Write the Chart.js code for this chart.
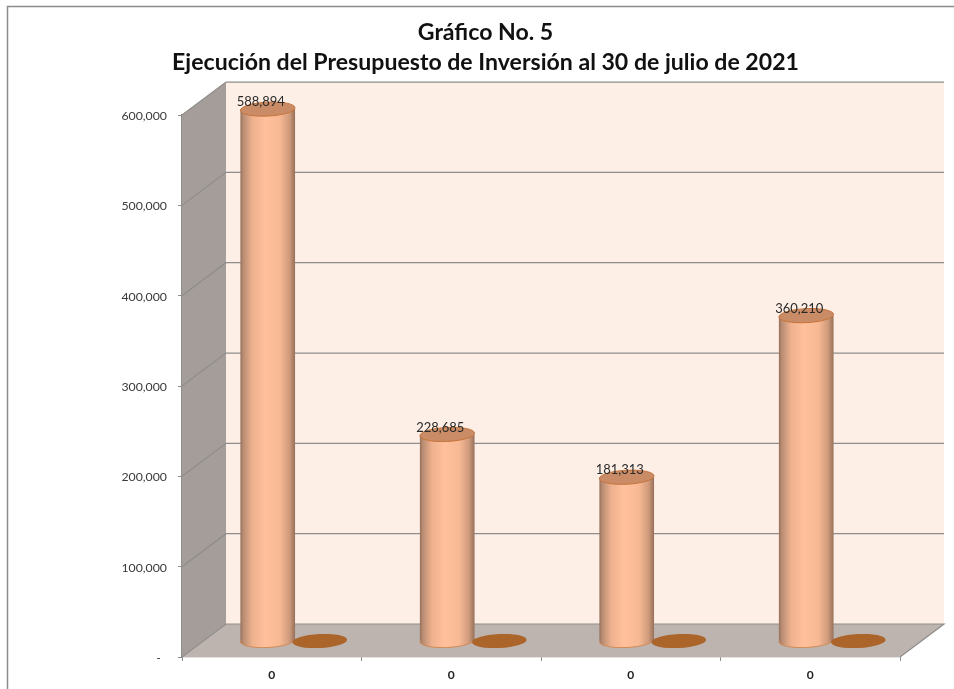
<!DOCTYPE html>
<html><head><meta charset="utf-8">
<style>html,body{margin:0;padding:0;background:#fff}#w{width:954px;height:689px;position:relative}canvas{filter:blur(0.4px)}</style>
<script src="https://cdn.jsdelivr.net/npm/chart.js@4"></script>
</head><body><div id="w"><canvas id="c"></canvas></div>
<script>
const categories = ['0', '0', '0', '0'];
const executed = [588894, 228685, 181313, 360210];
const zeroSeries = [0, 0, 0, 0];
const titleLines = ['Gráfico No. 5', 'Ejecución del Presupuesto de Inversión al 30 de julio de 2021'];

const FONT = 'Lato, Carlito, "Open Sans", sans-serif';
const DEPTH_X = 44, DEPTH_Y = 33;
const BAR_DX = 22, BAR_DY = 16;
const TILT = -0.05, RY = 7;
const TITLE_CX = 485.5;

function fmt(v){ return v.toLocaleString('en-US'); }

function barGradient(chart, i){
  const sx = chart.scales.x;
  if (!sx || !chart.chartArea) return '#ffbf99';
  const w = sx.width / categories.length * 0.58 / 2 * 1.05;
  const cx = sx.getPixelForValue(i) - w / 2 / 1.05;
  const g = chart.ctx.createLinearGradient(cx - w/2, 0, cx + w/2, 0);
  g.addColorStop(0, '#96705a');
  g.addColorStop(0.05, '#b88c72');
  g.addColorStop(0.22, '#eeb18e');
  g.addColorStop(0.45, '#ffc09b');
  g.addColorStop(0.72, '#f7b994');
  g.addColorStop(0.9, '#cf9a7b');
  g.addColorStop(1, '#96705a');
  return g;
}

const scene = {
  id: 'scene',
  afterLayout(chart){
    const b = chart.titleBlock;
    b.left = TITLE_CX - 420; b.right = TITLE_CX + 420;
  },
  beforeDatasetsDraw(chart){
    const {ctx, chartArea:a, scales:{y}} = chart;
    const L=a.left,R=a.right,T=a.top,B=a.bottom;
    ctx.save();
    ctx.strokeStyle='#8c8c8c'; ctx.lineWidth=1.5;
    ctx.beginPath(); ctx.moveTo(7.5,689); ctx.lineTo(7.5,6.5); ctx.lineTo(954,6.5); ctx.stroke();
    ctx.fillStyle='#fdeee6';
    ctx.fillRect(L+DEPTH_X,T-DEPTH_Y,R-L,B-T);
    ctx.fillStyle='#a49d99';
    ctx.beginPath(); ctx.moveTo(L,T); ctx.lineTo(L+DEPTH_X,T-DEPTH_Y); ctx.lineTo(L+DEPTH_X,B-DEPTH_Y); ctx.lineTo(L,B); ctx.closePath(); ctx.fill();
    ctx.fillStyle='#bdb4b0';
    ctx.beginPath(); ctx.moveTo(L,B); ctx.lineTo(L+DEPTH_X,B-DEPTH_Y); ctx.lineTo(R+DEPTH_X,B-DEPTH_Y); ctx.lineTo(R,B); ctx.closePath(); ctx.fill();
    ctx.strokeStyle='#8f8d8b'; ctx.lineWidth=1.2;
    y.ticks.forEach(t=>{
      const p=y.getPixelForValue(t.value);
      ctx.beginPath(); ctx.moveTo(L,p); ctx.lineTo(L+DEPTH_X,p-DEPTH_Y); ctx.lineTo(R+DEPTH_X,p-DEPTH_Y);
      if(t.value===0) ctx.lineTo(R,p);
      ctx.stroke();
    });
    ctx.restore();
  },
  beforeDatasetDraw(chart,{meta}){
    const ctx=chart.ctx;
    ctx.save();
    ctx.translate(BAR_DX,-BAR_DY);
    if(meta.index===0){
      meta.data.forEach((el,i)=>{
        ctx.save();
        ctx.fillStyle=barGradient(chart,i);
        ctx.strokeStyle='#d08a55'; ctx.lineWidth=1;
        ctx.beginPath(); ctx.ellipse(el.x,el.base,el.width/2,RY,TILT,0,Math.PI*2); ctx.fill(); ctx.stroke();
        ctx.restore();
      });
    }
  },
  afterDatasetDraw(chart,{meta}){
    const ctx=chart.ctx;
    if(meta.index===0){
      meta.data.forEach(el=>{
        ctx.fillStyle='#c98c67'; ctx.strokeStyle='#c8743a'; ctx.lineWidth=1;
        ctx.beginPath(); ctx.ellipse(el.x,el.y,el.width/2,RY,TILT,0,Math.PI*2); ctx.fill(); ctx.stroke();
      });
    }
    ctx.restore();
  },
  afterDatasetsDraw(chart){
    const ctx=chart.ctx;
    ctx.save();
    ctx.translate(BAR_DX,-BAR_DY);
    chart.getDatasetMeta(1).data.forEach(el=>{
      ctx.fillStyle='#ab652b';
      ctx.beginPath(); ctx.ellipse(el.x,el.y,el.width/2,RY,TILT,0,Math.PI*2); ctx.fill();
    });
    ctx.font='13px '+FONT; ctx.fillStyle='#2a2a2a'; ctx.textAlign='center'; ctx.textBaseline='middle';
    chart.getDatasetMeta(0).data.forEach((el,i)=>{
      ctx.fillText(fmt(executed[i]),el.x-7,el.y-7);
    });
    ctx.restore();
  }
};

new Chart(document.getElementById('c'),{
  type:'bar',
  data:{labels:categories,datasets:[
    {label:'Ejecución',data:executed,clip:false,borderWidth:0,backgroundColor:c=>barGradient(c.chart,c.dataIndex)},
    {label:'Serie 2',data:zeroSeries,clip:false,borderWidth:0,backgroundColor:'#ab652b'}
  ]},
  plugins:[scene],
  options:{
    responsive:true,maintainAspectRatio:false,animation:false,
    layout:{padding:{left:0,right:54,top:0,bottom:0}},
    categoryPercentage:0.58,barPercentage:1.05,
    plugins:{
      legend:{display:false},tooltip:{enabled:false},
      title:{display:true,text:titleLines,color:'#111',font:{family:FONT,size:23.1,weight:'bold',lineHeight:1.3},padding:{top:18,bottom:37}}
    },
    scales:{
      x:{
        afterFit(s){ s.height=32; },
        border:{color:'#8f8d8b',width:1.2},
        grid:{drawOnChartArea:false,color:'#8f8d8b',tickLength:4,offset:true},
        ticks:{color:'#222',font:{family:FONT,size:12,weight:'bold'},padding:7,maxRotation:0}
      },
      y:{
        min:0,max:600000,
        afterFit(s){ s.width=182; },
        border:{color:'#8f8d8b',width:1.2},
        grid:{drawOnChartArea:false,color:'#8f8d8b',tickLength:4},
        ticks:{stepSize:100000,color:'#3a3a3a',font:{family:FONT,size:12.3},padding:11,labelOffset:1,
          callback:v=>v===0?'-  ':fmt(v)}
      }
    }
  }
});
</script></body></html>
